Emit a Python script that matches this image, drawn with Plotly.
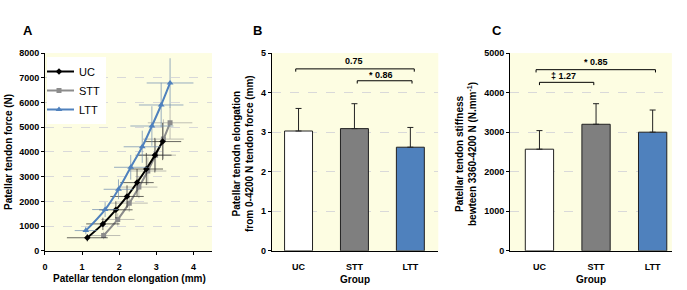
import plotly.graph_objects as go

# ---- Panel A data ----
uc_x = [1.14, 1.56, 1.91, 2.21, 2.48, 2.73, 2.96, 3.17]
uc_y = [530, 1090, 1660, 2200, 2760, 3310, 3870, 4420]
uc_xerr = [0.55, 0.45, 0.45, 0.45, 0.45, 0.45, 0.45, 0.5]
uc_yerr = [150, 250, 350, 450, 550, 650, 700, 750]

stt_x = [1.58, 1.96, 2.27, 2.53, 2.77, 2.98, 3.19, 3.37]
stt_y = [620, 1270, 1930, 2580, 3230, 3870, 4520, 5180]
stt_xerr = [0.45, 0.45, 0.5, 0.5, 0.5, 0.55, 0.55, 0.6]
stt_yerr = [150, 250, 350, 450, 550, 650, 800, 650]

ltt_x = [1.10, 1.62, 1.98, 2.31, 2.62, 2.88, 3.13, 3.37]
ltt_y = [820, 1670, 2490, 3380, 4210, 5050, 5900, 6790]
ltt_xerr = [0.3, 0.35, 0.4, 0.45, 0.5, 0.58, 0.6, 0.63]
ltt_yerr = [150, 300, 400, 500, 650, 800, 900, 1000]

# ---- Panel B / C data ----
groups = ["UC", "STT", "LTT"]
elong_mean = [3.03, 3.09, 2.62]
elong_sd = [0.57, 0.63, 0.50]
stiff_mean = [2570, 3200, 3000]
stiff_sd = [470, 520, 560]
bar_colors = ["#ffffff", "#7f7f7f", "#4f81bd"]

BG = "#fdfde2"
font_family = "Arial, Liberation Sans, sans-serif"
W, H = 687, 290

fig = go.Figure()

def curve(x, y, xe, ye, color, ecolor, symbol, name, msize, rank):
    fig.add_trace(go.Scatter(
        x=x, y=y, name=name, mode="lines+markers", legendrank=rank,
        line=dict(color=color, width=2, shape="spline"),
        marker=dict(symbol=symbol, size=msize, color=color),
        error_x=dict(type="data", array=xe, color=ecolor, thickness=1, width=0),
        error_y=dict(type="data", array=ye, color=ecolor, thickness=1, width=0),
        xaxis="x", yaxis="y"))

curve(stt_x, stt_y, stt_xerr, stt_yerr, "#8c8c8c", "rgba(150,150,150,0.6)", "square", "STT", 5, 2)
curve(uc_x, uc_y, uc_xerr, uc_yerr, "#000000", "rgba(40,40,40,0.7)", "diamond", "UC", 5, 1)
curve(ltt_x, ltt_y, ltt_xerr, ltt_yerr, "#4f81bd", "rgba(110,140,175,0.7)", "triangle-up", "LTT", 6, 3)

fig.add_trace(go.Bar(
    x=groups, y=elong_mean, width=0.5, marker=dict(color=bar_colors, line=dict(color="#222", width=1)),
    error_y=dict(type="data", symmetric=False, array=elong_sd, arrayminus=[0, 0, 0], color="#222", thickness=1, width=3),
    xaxis="x2", yaxis="y2", showlegend=False))
fig.add_trace(go.Bar(
    x=groups, y=stiff_mean, width=0.5, marker=dict(color=bar_colors, line=dict(color="#222", width=1)),
    error_y=dict(type="data", symmetric=False, array=stiff_sd, arrayminus=[0, 0, 0], color="#222", thickness=1, width=3),
    xaxis="x3", yaxis="y3", showlegend=False))

tickfont = dict(family=font_family, size=9, color="#000")

def yax(rng, dtick, anchor):
    return dict(domain=[0.135, 0.817], range=rng, dtick=dtick, anchor=anchor, automargin=False,
                showline=True, linecolor="#000", linewidth=1, ticks="outside", ticklen=3,
                tickcolor="#000", showgrid=True, gridcolor="#d9d9d9", griddash="dash",
                gridwidth=1, zeroline=False, tickfont=tickfont, tickprefix="<b>", ticksuffix="</b>")

def xcat(domain, rng, anchor):
    return dict(domain=domain, range=rng, anchor=anchor, automargin=False,
                showline=True, linecolor="#000", ticks="outside", ticklen=7, tickcolor="rgba(0,0,0,0)",
                showgrid=False, zeroline=False,
                tickfont=tickfont, tickprefix="<b>", ticksuffix="</b>")

fig.update_layout(
    width=W, height=H, margin=dict(l=0, r=0, t=0, b=0),
    paper_bgcolor="#ffffff", plot_bgcolor=BG,
    font=dict(family=font_family),
    barmode="group",
    xaxis=dict(domain=[0.0655, 0.3086], range=[0, 4.5], dtick=1, anchor="y", automargin=False,
               showline=True, linecolor="#000", ticks="outside", ticklen=3, tickcolor="#000",
               showgrid=False, zeroline=False, tickfont=tickfont, tickprefix="<b>", ticksuffix="</b>",
               ticklabelstandoff=4),
    yaxis=yax([0, 8000], 1000, "x"),
    xaxis2=xcat([0.3955, 0.638], [-0.48, 2.5], "y2"),
    yaxis2=yax([0, 5], 1, "x2"),
    xaxis3=xcat([0.7424, 0.978], [-0.52, 2.34], "y3"),
    yaxis3=yax([0, 5000], 1000, "x3"),
    legend=dict(x=47 / W, y=1 - 57 / H, xanchor="left", yanchor="top", bgcolor="#ffffff",
                font=dict(family=font_family, size=11, color="#000"),
                traceorder="normal", itemwidth=30, tracegroupgap=0,
                indentation=-8),
    showlegend=True,
)

shapes = []
def bracket(xref, yref, x0, x1, y, drop):
    shapes.append(dict(type="path", xref=xref, yref=yref,
                       path=f"M {x0},{y-drop} L {x0},{y} L {x1},{y} L {x1},{y-drop}",
                       line=dict(color="#000", width=1)))

bracket("x2", "y2", -0.05, 2.07, 4.6, 0.07)
bracket("x2", "y2", 1.05, 2.03, 4.3, 0.07)
bracket("x3", "y3", -0.06, 2.05, 4580, 70)
bracket("x3", "y3", 0.0, 0.96, 4260, 70)
fig.update_layout(shapes=shapes)

ann = []
def txt(xref, yref, x, y, text, size=9):
    ann.append(dict(xref=xref, yref=yref, x=x, y=y, text=text, showarrow=False,
                    font=dict(family=font_family, size=size, color="#000")))

txt("x2", "y2", 1.0, 4.79, "<b>0.75</b>")
txt("x2", "y2", 1.48, 4.45, "<b>* 0.86</b>")
txt("x3", "y3", 1.0, 4780, "<b>* 0.85</b>")
txt("x3", "y3", 0.42, 4420, "<b>‡ 1.27</b>")

def ptxt(px, py, text, size=10, angle=0):
    ann.append(dict(xref="paper", yref="paper", x=px / W, y=1 - py / H, text=text, showarrow=False,
                    xanchor="center", yanchor="middle", textangle=angle,
                    font=dict(family=font_family, size=size, color="#000")))

# panel letters
ptxt(28, 31, "<b>A</b>", 13)
ptxt(257, 31, "<b>B</b>", 13)
ptxt(497, 31, "<b>C</b>", 13)
# axis titles
ptxt(129, 278, "<b>Patellar tendon elongation (mm)</b>")
ptxt(355, 279, "<b>Group</b>")
ptxt(591, 279, "<b>Group</b>")
ptxt(8, 152, "<b>Patellar tendon force (N)</b>", 10, -90)
ptxt(243, 154, "<b>Patellar tenodn elongation<br>from 0-4200 N tendon force (mm)</b>", 10, -90)
ptxt(466, 154, "<b>Patellar tendon stiffness<br>bewteen 3360-4200 N (N.mm<sup>-1</sup>)</b>", 10, -90)
fig.update_layout(annotations=ann)

fig.write_html("out.html")
